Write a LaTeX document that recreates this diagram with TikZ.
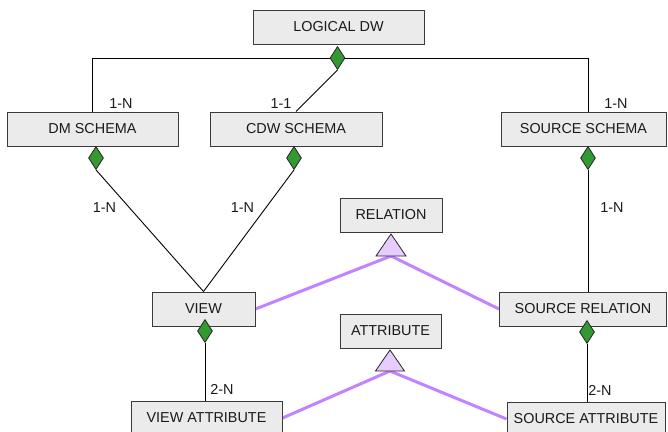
\documentclass[tikz,border=0pt]{standalone}
\usepackage{fontspec}
\setmainfont{Liberation Sans}
\usetikzlibrary{shapes.geometric,backgrounds}
\definecolor{boxfill}{HTML}{EBEBEB}
\definecolor{boxline}{HTML}{3A3A3A}
\definecolor{aggfill}{HTML}{339933}
\definecolor{genfill}{HTML}{E6CCFF}
\definecolor{genline}{HTML}{C183FF}
\definecolor{inktext}{HTML}{1A1A1A}

\begin{document}
\begin{tikzpicture}[x=1pt,y=-1pt,
  entity/.style={draw=boxline, fill=boxfill, line width=1pt, inner sep=0pt,
    minimum height=34pt, text=inktext, font=\fontsize{14.4}{16}\selectfont},
  agg/.style={diamond, draw=black!85, fill=aggfill, line width=0.8pt, inner sep=0pt,
    minimum width=15pt, minimum height=23pt},
  link/.style={draw=black, line width=0.9pt},
  genlink/.style={draw=genline, line width=3pt, line join=round},
  gentri/.style={draw=black!85, fill=genfill, line width=0.8pt, line join=miter},
  card/.style={font=\fontsize{14.4}{16}\selectfont, inner sep=0pt, text=inktext}
]
\useasboundingbox (0,0) rectangle (668,431);

% entities
\node[entity, minimum width=171pt] (ldw)  at (338.5,27)  {LOGICAL DW};
\node[entity, minimum width=171pt] (dm)   at (92.5,129)  {DM SCHEMA};
\node[entity, minimum width=172pt] (cdw)  at (296,129)   {CDW SCHEMA};
\node[entity, minimum width=165pt] (ss)   at (583.5,129) {SOURCE SCHEMA};
\node[entity, minimum width=102pt] (rel)  at (391,215)   {RELATION};
\node[entity, minimum width=103pt] (view) at (203.5,309) {VIEW};
\node[entity, minimum width=167pt] (srel) at (583,309)   {SOURCE RELATION};
\node[entity, minimum width=101pt] (att)  at (390.5,331) {ATTRIBUTE};
\node[entity, minimum width=151pt] (va)   at (206.5,418) {VIEW ATTRIBUTE};
\node[entity, minimum width=158pt] (sa)   at (586,419)   {SOURCE ATTRIBUTE};

% aggregation diamonds
\node[agg] (ldwd) at (337.5,58) {};
\node[agg] (dmd)  at (96,158)   {};
\node[agg] (cdwd) at (294,158)  {};
\node[agg] (ssd)  at (588,158)  {};
\node[agg] (vd)   at (205,331)  {};
\node[agg] (srd)  at (587,332)  {};

% generalisation triangles
\coordinate (reltop)  at (391,234);
\coordinate (relbase) at (391,256);
\coordinate (atttop)  at (390,350);
\coordinate (attbase) at (390,371);
\path[gentri] (reltop) -- ([xshift=15pt]relbase) -- ([xshift=-15pt]relbase) -- cycle;
\path[gentri] (atttop) -- ([xshift=14.5pt]attbase) -- ([xshift=-14.5pt]attbase) -- cycle;

% connectors
\begin{pgfonlayer}{background}
  \draw[link] (dm.north) -- (dm.north |- ldwd) -- (ssd |- ldwd) -- (ssd |- ss.north);
  \draw[link] (ldwd.south) -- (cdw.north);
  \draw[link] (dmd.south) -- (view.north);
  \draw[link] (cdwd.south) -- (view.north);
  \draw[link] (ssd.south) -- (ssd.south |- srel.north);
  \draw[link] (vd.south) -- (vd.south |- va.north);
  \draw[link] (srd.south) -- (srd.south |- sa.north);
  \draw[genlink] (view.east) -- (relbase) -- (srel.west);
  \draw[genlink] (va.east) -- (attbase) -- (sa.west);
\end{pgfonlayer}

% cardinalities
\node[card] (c1) at (121,104)   {1-N};
\node[card] (c2) at (281,104)   {1-1};
\node[card] (c3) at (616,104)   {1-N};
\node[card] (c4) at (104.5,208) {1-N};
\node[card] (c5) at (242.5,208) {1-N};
\node[card] (c6) at (612,208)   {1-N};
\node[card] (c7) at (222,389)   {2-N};
\node[card] (c8) at (600,390)   {2-N};
\end{tikzpicture}
\end{document}
